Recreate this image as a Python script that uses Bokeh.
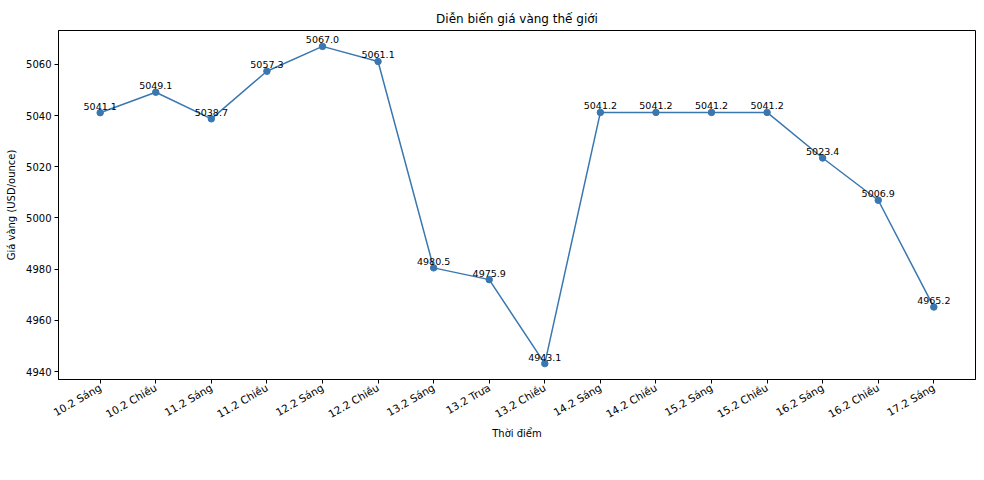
from math import pi
from bokeh.plotting import figure
from bokeh.models import ColumnDataSource, FixedTicker, Range1d
from bokeh.core.properties import value
from bokeh.embed import file_html
from bokeh.resources import INLINE

labels = ["10.2 Sáng", "10.2 Chiều", "11.2 Sáng", "11.2 Chiều", "12.2 Sáng", "12.2 Chiều",
          "13.2 Sáng", "13.2 Trưa", "13.2 Chiều", "14.2 Sáng", "14.2 Chiều", "15.2 Sáng",
          "15.2 Chiều", "16.2 Sáng", "16.2 Chiều", "17.2 Sáng"]
prices = [5041.1, 5049.1, 5038.7, 5057.3, 5067.0, 5061.1, 4980.5, 4975.9, 4943.1,
          5041.2, 5041.2, 5041.2, 5041.2, 5023.4, 5006.9, 4965.2]
y_ticks = [4940, 4960, 4980, 5000, 5020, 5040, 5060]

xs = list(range(len(labels)))
src = ColumnDataSource(dict(x=xs, y=prices, txt=[f"{v:.1f}" for v in prices]))

color = "#3a77b0"
FONT = "DejaVu Sans"

p = figure(width=976, height=442, output_backend="svg", toolbar_location=None,
           title="Diễn biến giá vàng thế giới",
           x_range=Range1d(-0.75, len(labels) - 1 + 0.75),
           y_range=Range1d(4936.9, 5073.2),
           min_border_left=58, min_border_right=1, min_border_top=30, min_border_bottom=40)

p.line("x", "y", source=src, line_color=color, line_width=1.5)
p.scatter("x", "y", source=src, size=6.5, fill_color=color, line_color=color)
p.text("x", "y", text="txt", source=src, text_align="center", text_baseline="bottom",
       y_offset=-3, text_font_size="9.5px", text_font=value(FONT), text_color="black")

p.title.align = "center"
p.title.text_font = FONT
p.title.text_font_style = "normal"
p.title.text_font_size = "12px"
p.title.text_color = "black"

p.xgrid.visible = False
p.ygrid.visible = False
p.outline_line_color = "black"
p.outline_line_width = 1
p.outline_line_alpha = 1

p.xaxis.ticker = FixedTicker(ticks=xs)
p.xaxis.major_label_overrides = {i: l for i, l in enumerate(labels)}
p.xaxis.major_label_orientation = pi / 6
p.yaxis.ticker = FixedTicker(ticks=y_ticks)

p.xaxis.axis_label = "Thời điểm"
p.yaxis.axis_label = "Giá vàng (USD/ounce)"

for ax in (p.xaxis[0], p.yaxis[0]):
    ax.axis_label_text_font = FONT
    ax.axis_label_text_font_style = "normal"
    ax.axis_label_text_font_size = "10px"
    ax.axis_label_text_color = "black"
    ax.major_label_text_font = FONT
    ax.major_label_text_color = "black"
    ax.minor_tick_line_color = None
    ax.major_tick_out = 4
    ax.major_tick_in = 0
    ax.major_tick_line_color = "black"
    ax.axis_line_color = "black"
    ax.major_label_standoff = 3
    ax.axis_label_standoff = 6
p.xaxis.axis_label_standoff = 0
p.xaxis.major_label_text_font_size = "10.5px"
p.yaxis.major_label_text_font_size = "10px"

open("out.html", "w").write(file_html(p, INLINE))
